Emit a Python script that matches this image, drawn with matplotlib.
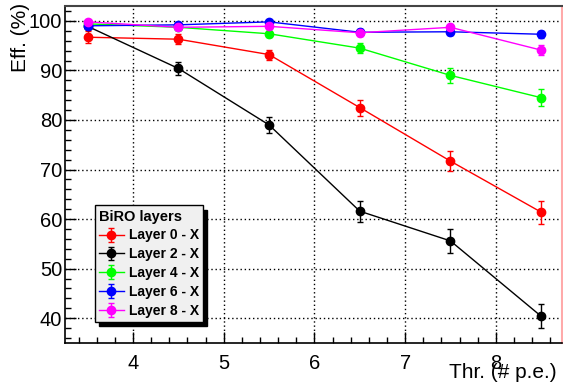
import matplotlib
matplotlib.use("Agg")
import matplotlib.pyplot as plt
from matplotlib.ticker import MultipleLocator

plt.rcParams['font.family'] = ['Liberation Sans', 'DejaVu Sans']

thr = [3.5, 4.5, 5.5, 6.5, 7.5, 8.5]
labels = ["Layer 0 - X", "Layer 2 - X", "Layer 4 - X", "Layer 6 - X", "Layer 8 - X"]
colors = ["#ff0000", "#000000", "#00ff00", "#0000ff", "#ff00ff"]
eff_l0 = [96.7, 96.3, 93.2, 82.5, 71.7, 61.4]
err_l0 = [1.2, 1.0, 1.0, 1.6, 2.0, 2.3]
eff_l2 = [98.9, 90.4, 79.0, 61.6, 55.6, 40.4]
err_l2 = [0.5, 1.4, 1.7, 2.1, 2.4, 2.4]
eff_l4 = [99.4, 98.7, 97.4, 94.5, 89.0, 84.5]
err_l4 = [0.4, 0.5, 0.6, 1.0, 1.5, 1.7]
eff_l6 = [99.0, 99.2, 99.8, 97.7, 97.8, 97.3]
err_l6 = [0.5, 0.4, 0.3, 0.6, 0.6, 0.7]
eff_l8 = [99.8, 98.7, 98.9, 97.6, 98.7, 94.1]
err_l8 = [0.3, 0.5, 0.5, 0.6, 0.5, 1.0]
series = [(eff_l0, err_l0), (eff_l2, err_l2), (eff_l4, err_l4), (eff_l6, err_l6), (eff_l8, err_l8)]

fig = plt.figure(figsize=(5.63, 3.88), dpi=100)
ax = fig.add_axes([65/563, 45/388, 497/563, 337/388])

for (y, e), c, lab in zip(series, colors, labels):
    ax.errorbar(thr, y, yerr=e, color=c, marker='o', markersize=6, lw=1.0,
                elinewidth=1.0, capsize=2, capthick=1.0, label=lab)

ax.set_xlim(3.25, 8.73)
ax.set_ylim(35, 103)
ax.xaxis.set_major_locator(MultipleLocator(1))
ax.xaxis.set_minor_locator(MultipleLocator(0.2))
ax.yaxis.set_major_locator(MultipleLocator(10))
ax.yaxis.set_minor_locator(MultipleLocator(2))
ax.tick_params(which='both', direction='in', top=False, right=False, labelsize=14.5)
ax.tick_params(which='major', length=8, width=1)
ax.tick_params(which='minor', length=4, width=1)
ax.tick_params(axis='x', pad=8)
ax.tick_params(axis='y', pad=2)
ax.grid(True, which='major', color='black', linestyle=(0, (1, 2)), lw=1)
ax.set_axisbelow(True)

for s in ['left', 'bottom']:
    ax.spines[s].set_linewidth(1.2)
ax.spines['top'].set_color('#444444')
ax.spines['top'].set_linewidth(1.5)
ax.spines['right'].set_color('#ffaaaa')
ax.spines['right'].set_linewidth(1.5)

fig.text(21/563, 1 - 3/388, "Eff. (%)", rotation=90, ha='center', va='top', fontsize=15)
fig.text(557/563, 1 - 373/388, "Thr. (# p.e.)", ha='right', va='center', fontsize=15)

leg = ax.legend(loc='lower left', bbox_to_anchor=(0.06, 0.062), title="BiRO layers",
                prop={'weight': 'bold', 'size': 10}, title_fontproperties={'weight': 'bold', 'size': 10.5},
                frameon=True, fancybox=False, shadow={'color': 'black', 'alpha': 1, 'ox': 3, 'oy': -3},
                borderpad=0.3, labelspacing=0.35, handlelength=1.8, handletextpad=0.35,
                borderaxespad=0)
leg._legend_box.align = "left"
fr = leg.get_frame()
fr.set_facecolor('#f0f0f0')
fr.set_edgecolor('black')
fr.set_alpha(1)
fr.set_linewidth(1)

fig.savefig("out.png", dpi=100)
